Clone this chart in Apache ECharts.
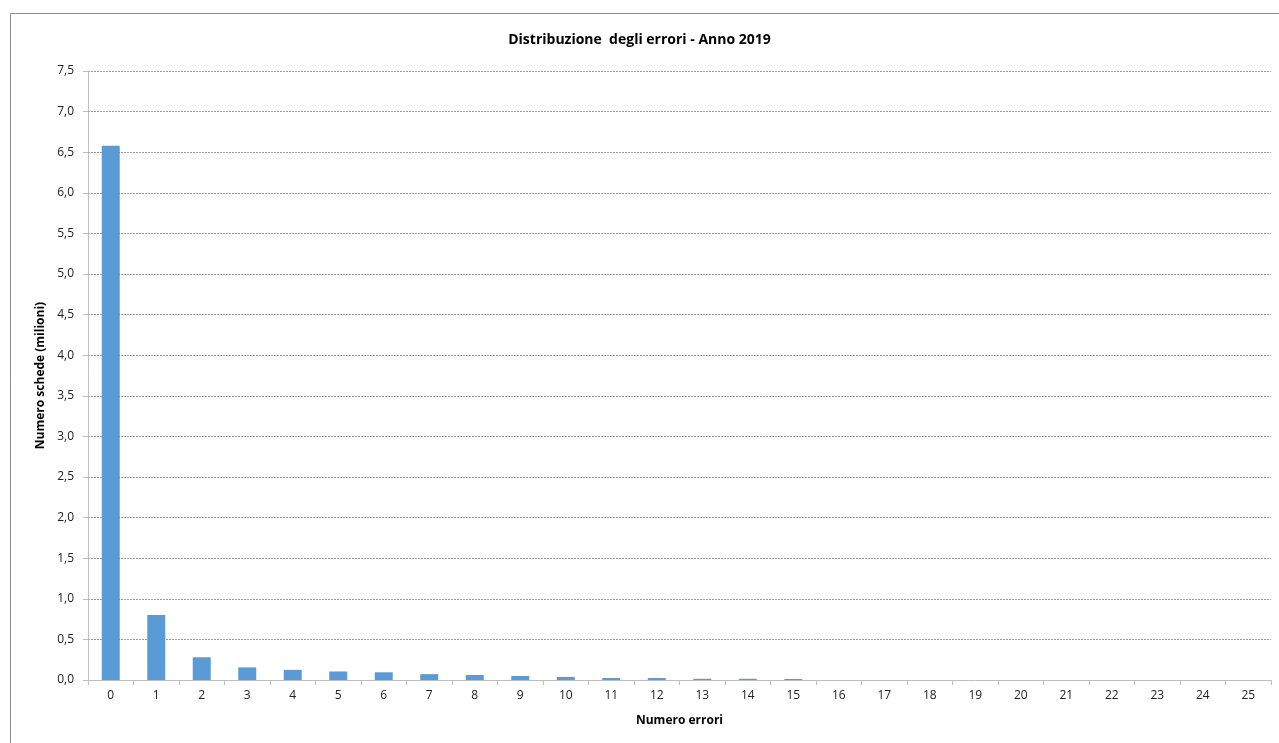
<!DOCTYPE html>
<html><head><meta charset="utf-8">
<script src="https://cdn.jsdelivr.net/npm/echarts@6/dist/echarts.min.js"></script>
<style>html,body{margin:0;padding:0;background:#fff}#c{width:1279px;height:743px}</style>
</head><body><div id="c"></div>
<script>
const categories = ['0','1','2','3','4','5','6','7','8','9','10','11','12','13','14','15','16','17','18','19','20','21','22','23','24','25'];
const values = [6.58,0.80,0.28,0.155,0.125,0.105,0.095,0.072,0.062,0.05,0.038,0.025,0.024,0.015,0.015,0.013,0,0,0,0,0,0,0,0,0,0];
const chartTitle = 'Distribuzione  degli errori - Anno 2019';
const xName = 'Numero errori';
const yName = 'Numero schede (milioni)';
const font = 'Open Sans, Liberation Sans, sans-serif';
const chart = echarts.init(document.getElementById('c'));
chart.setOption({
  animation:false,
  graphic:[{type:'rect',shape:{x:10.5,y:13.5,width:1300,height:800},style:{fill:'none',stroke:'#8c8c8c',lineWidth:1},silent:true}],
  title:{text:chartTitle,left:'center',top:28,textStyle:{fontFamily:font,fontSize:14,fontWeight:'bold',color:'#000'}},
  grid:{left:88,right:8,top:71,bottom:63,containLabel:false},
  xAxis:{type:'category',data:categories,name:xName,nameLocation:'middle',nameGap:35,
    nameTextStyle:{fontFamily:font,fontSize:12,fontWeight:'bold',color:'#000'},
    axisLine:{lineStyle:{color:'#bfbfbf',width:1}},
    axisTick:{show:true,alignWithLabel:false,length:5,lineStyle:{color:'#bfbfbf'}},
    axisLabel:{fontFamily:font,fontSize:12,color:'#222',margin:10}},
  yAxis:{type:'value',min:0,max:7.5,interval:0.5,name:yName,nameLocation:'middle',nameGap:40,
    nameTextStyle:{fontFamily:font,fontSize:12,fontWeight:'bold',color:'#000'},
    axisLine:{show:true,lineStyle:{color:'#bfbfbf',width:1}},
    axisTick:{show:true,length:5,lineStyle:{color:'#bfbfbf'}},
    axisLabel:{fontFamily:font,fontSize:12,color:'#222',margin:14,formatter:v=>v.toFixed(1).replace('.',',')},
    splitLine:{lineStyle:{color:'#9a9a9a',type:[2,1],width:1}}},
  series:[{type:'bar',data:values,barWidth:18,itemStyle:{color:'#5b9bd5'}}]
});
</script></body></html>
